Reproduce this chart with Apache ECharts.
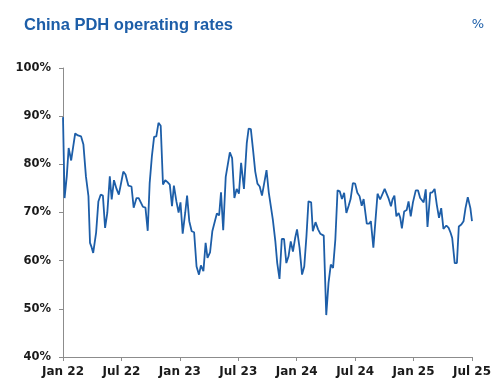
<!DOCTYPE html>
<html>
<head>
<meta charset="utf-8">
<script src="https://cdn.jsdelivr.net/npm/echarts@6/dist/echarts.min.js"></script>
<style>
html,body{margin:0;padding:0;background:#fff;}
#chart{width:500px;height:390px;}
</style>
</head>
<body>
<div id="chart"></div>
<script>
// ---- Data ----
var title = 'China PDH operating rates';
var unitLabel = '%';
var dates = [
 '2022-01-01','2022-01-06','2022-01-13','2022-01-19','2022-01-27','2022-02-02','2022-02-08','2022-02-16','2022-02-25','2022-03-04',
 '2022-03-12','2022-03-20','2022-03-25','2022-03-30','2022-04-04','2022-04-13','2022-04-20','2022-04-27','2022-05-04','2022-05-11',
 '2022-05-18','2022-05-26','2022-06-01','2022-06-08','2022-06-16','2022-06-23','2022-07-02','2022-07-07','2022-07-14','2022-07-23',
 '2022-08-02','2022-08-09','2022-08-18','2022-08-25','2022-08-31','2022-09-07','2022-09-15','2022-09-22','2022-09-28','2022-10-05',
 '2022-10-12','2022-10-19','2022-10-26','2022-11-02','2022-11-09','2022-11-16','2022-11-23','2022-11-30','2022-12-07','2022-12-13',
 '2022-12-21','2022-12-28','2023-01-03','2023-01-10','2023-01-18','2023-01-24','2023-01-31','2023-02-07','2023-02-14','2023-02-21',
 '2023-02-28','2023-03-06','2023-03-14','2023-03-21','2023-03-27','2023-04-04','2023-04-11','2023-04-17','2023-04-25','2023-05-02',
 '2023-05-08','2023-05-15','2023-05-23','2023-05-29','2023-06-05','2023-06-12','2023-06-19','2023-06-26','2023-07-03','2023-07-10',
 '2023-07-19','2023-07-28','2023-08-03','2023-08-10','2023-08-17','2023-08-24','2023-08-31','2023-09-07','2023-09-14','2023-09-20',
 '2023-09-28','2023-10-05','2023-10-11','2023-10-18','2023-10-26','2023-11-01','2023-11-08','2023-11-15','2023-11-22','2023-11-29',
 '2023-12-06','2023-12-13','2023-12-20','2023-12-27','2024-01-02','2024-01-10','2024-01-18','2024-01-25','2024-02-01','2024-02-07',
 '2024-02-15','2024-02-20','2024-02-28','2024-03-07','2024-03-14','2024-03-20','2024-03-25','2024-04-02','2024-04-09','2024-04-16',
 '2024-04-23','2024-04-30','2024-05-07','2024-05-14','2024-05-21','2024-05-28','2024-06-04','2024-06-11','2024-06-17','2024-06-24',
 '2024-07-01','2024-07-08','2024-07-15','2024-07-22','2024-07-28','2024-08-07','2024-08-15','2024-08-20','2024-08-28','2024-09-03',
 '2024-09-10','2024-09-18','2024-09-24','2024-10-02','2024-10-08','2024-10-14','2024-10-22','2024-10-27','2024-11-02','2024-11-08',
 '2024-11-15','2024-11-20','2024-11-25','2024-12-02','2024-12-10','2024-12-16','2024-12-23','2024-12-30','2025-01-08','2025-01-15',
 '2025-01-22','2025-02-02','2025-02-08','2025-02-13','2025-02-21','2025-02-27','2025-03-06','2025-03-13','2025-03-20','2025-03-27',
 '2025-04-03','2025-04-12','2025-04-19','2025-04-25','2025-04-30','2025-05-08','2025-05-15','2025-05-21','2025-05-29','2025-06-05',
 '2025-06-11','2025-06-18','2025-06-26','2025-07-01'
];
var rates = [
 89.8,73.0,77.5,83.4,80.8,83.5,86.4,86.0,85.8,84.1,
 77.5,73.4,63.7,62.8,61.6,65.8,72.3,73.7,73.5,66.8,
 69.9,77.5,72.7,76.7,74.9,73.7,76.8,78.5,77.9,75.6,
 75.4,71.0,73.0,73.0,73.0,71.2,71.0,66.2,76.1,81.7,
 85.7,85.8,88.6,88.0,75.8,76.7,76.3,75.8,71.3,75.6,
 72.3,70.0,72.1,65.6,69.9,73.5,68.2,66.1,65.9,58.8,
 57.1,59.0,57.8,63.7,60.6,61.7,66.1,66.3,69.8,69.4,
 74.2,66.3,77.4,77.2,82.5,81.3,73.0,74.9,73.9,80.3,
 74.9,84.4,87.4,87.3,83.0,78.5,76.0,75.4,73.5,73.4,
 78.8,74.2,74.4,68.5,64.0,59.5,56.2,64.5,64.5,59.5,
 60.9,64.0,61.9,64.7,66.5,62.7,57.1,58.8,65.1,72.3,
 72.1,66.1,68.0,66.5,65.6,65.4,65.2,48.7,55.4,59.2,
 58.5,64.4,74.6,74.4,72.8,74.1,69.9,71.4,72.8,76.1,
 76.0,74.1,73.4,71.4,72.8,67.7,67.7,68.2,62.7,67.8,
 73.9,72.7,72.7,74.9,74.9,73.0,71.3,72.7,73.5,69.2,
 69.9,68.9,66.7,70.2,70.5,72.3,69.2,72.1,74.6,74.6,
 73.0,72.1,74.8,67.0,74.1,74.2,74.9,71.6,68.9,70.9,
 66.6,67.3,66.8,65.8,64.7,59.5,59.5,67.1,67.5,68.2,
 70.9,73.2,70.9,68.2
];
var tickMonths = ['Jan','Jul'];
var yMin = 40, yMax = 100, yStep = 10;
var xStartYear = 2022; // axis from Jan 22 to Jul 25
var xSpanMonths = 42;

// ---- helpers ----
function monthIndex(s){
  var p = s.split('-').map(Number);
  var dim = new Date(p[0], p[1], 0).getDate();
  return (p[0]-xStartYear)*12 + (p[1]-1) + (p[2]-1)/dim;
}
var seriesData = dates.map(function(d,i){ return [monthIndex(d), rates[i]]; });

var blue = '#1d5ea8';
var chart = echarts.init(document.getElementById('chart'), null, {renderer:'canvas'});
chart.setOption({
  animation:false,
  backgroundColor:'#ffffff',
  title:[
    {text:title, left:19, top:12, textStyle:{fontFamily:'Liberation Sans', fontWeight:'bold', fontSize:16.5, color:blue}},
    {text:unitLabel, right:11, top:13, textStyle:{fontFamily:'DejaVu Sans', fontWeight:'normal', fontSize:13, color:blue}}
  ],
  grid:{left:63, right:28, top:68, bottom:33, containLabel:false},
  xAxis:{
    type:'value', min:0, max:xSpanMonths, interval:6,
    axisLine:{show:true, lineStyle:{color:'#8c8c8c', width:1}},
    axisTick:{show:true, inside:false, length:4, lineStyle:{color:'#8c8c8c'}},
    splitLine:{show:false},
    axisLabel:{
      margin:9, color:'#1a1a1a', fontFamily:'DejaVu Sans', fontWeight:'bold', fontSize:12,
      formatter:function(v){
        var k = Math.round(v/6);
        return tickMonths[k%2] + ' ' + (xStartYear - 2000 + Math.floor(k/2));
      }
    }
  },
  yAxis:{
    type:'value', min:yMin, max:yMax, interval:yStep,
    axisLine:{show:true, lineStyle:{color:'#8c8c8c', width:1}},
    axisTick:{show:true, inside:false, length:4, lineStyle:{color:'#8c8c8c'}},
    splitLine:{show:false},
    axisLabel:{margin:12, color:'#1a1a1a', fontFamily:'DejaVu Sans', fontWeight:'bold', fontSize:11.5, formatter:'{value}%'}
  },
  series:[{
    type:'line', data:seriesData, showSymbol:false, symbol:'none',
    lineStyle:{color:blue, width:1.8}, clip:false
  }]
});
</script>
</body>
</html>
